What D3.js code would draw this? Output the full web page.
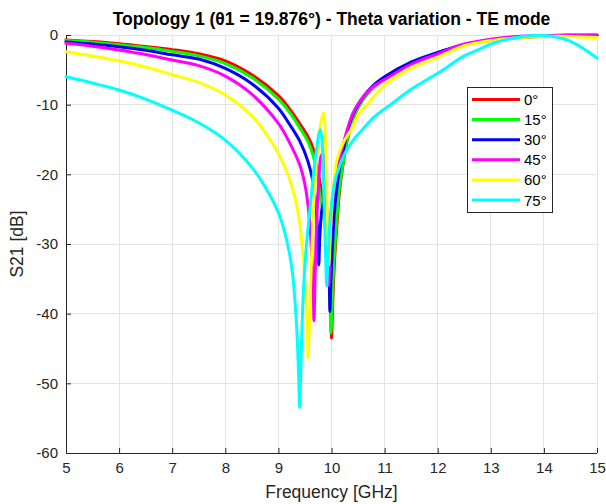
<!DOCTYPE html>
<html>
<head>
<meta charset="utf-8">
<script src="https://cdn.jsdelivr.net/npm/d3@7"></script>
<style>
html,body{margin:0;padding:0;background:#fff;}
svg{display:block;}
text{font-family:"Liberation Sans",Arial,Helvetica,sans-serif;}
</style>
</head>
<body>
<svg id="chart" width="606" height="504"></svg>
<script>
// ---- data ----
const titleText = "Topology 1 (\u03b81 = 19.876\u00b0) - Theta variation - TE mode";
const xLabel = "Frequency [GHz]";
const yLabel = "S21 [dB]";
const xTicks = [5,6,7,8,9,10,11,12,13,14,15];
const yTicks = [0,-10,-20,-30,-40,-50,-60];
const seriesNames = ["0\u00b0","15\u00b0","30\u00b0","45\u00b0","60\u00b0","75\u00b0"];
const seriesColors = ["#ff0000","#00ff00","#0000ff","#ff00ff","#ffff00","#00ffff"];

const s0 = [[5,-0.7],[5.5,-0.95],[6,-1.25],[6.5,-1.65],[7,-2.1],[7.5,-2.7],[8,-3.7],[8.5,-5.7],[9,-8.7],[9.2,-10.5],[9.4,-12.7],[9.55,-14.5],[9.65,-16.2],[9.73,-19],[9.8,-22],[9.88,-26],[9.94,-31],[9.97,-36],[9.99,-41],[10.0,-43.5],[10.03,-37],[10.06,-32],[10.1,-27.5],[10.15,-22.5],[10.2,-19.5],[10.3,-15],[10.4,-12.3],[10.5,-10.4],[10.75,-7.8],[11,-6.2],[11.5,-4.0],[12,-2.6],[12.5,-1.4],[13,-0.8],[13.5,-0.4],[14,-0.2],[14.5,-0.1],[15,-0.05]];
const s15 = [[5,-0.8],[5.5,-1.05],[6,-1.4],[6.5,-1.8],[7,-2.35],[7.5,-3.0],[8,-4.1],[8.5,-6.1],[9,-9.2],[9.2,-11],[9.4,-13.3],[9.55,-15.2],[9.65,-17.2],[9.73,-20],[9.78,-23],[9.85,-26],[9.92,-30],[9.95,-34],[9.975,-39],[9.99,-42.8],[10.02,-37],[10.05,-32],[10.09,-27.5],[10.14,-22.5],[10.2,-19.2],[10.3,-14.8],[10.4,-12.1],[10.5,-10.3],[10.75,-7.7],[11,-6.1],[11.5,-3.9],[12,-2.55],[12.5,-1.35],[13,-0.75],[13.5,-0.35],[14,-0.15],[14.5,-0.08],[15,-0.05]];
const s30 = [[5,-1.0],[5.5,-1.3],[6,-1.7],[6.5,-2.2],[7,-2.85],[7.5,-3.45],[8,-4.8],[8.5,-7.0],[9,-10.5],[9.2,-12.7],[9.4,-15.2],[9.55,-18],[9.65,-21],[9.7,-24],[9.74,-28.5],[9.76,-33],[9.78,-29],[9.82,-25],[9.86,-24],[9.9,-26],[9.94,-31],[9.96,-36],[9.97,-39.7],[9.99,-35],[10.02,-30],[10.06,-25],[10.1,-22],[10.15,-19.3],[10.2,-17.5],[10.3,-13.8],[10.4,-11.5],[10.5,-10],[10.75,-7.5],[11,-6.0],[11.5,-3.9],[12,-2.5],[12.5,-1.4],[13,-0.7],[13.5,-0.3],[14,-0.1],[14.5,-0.05],[15,-0.05]];
const s45 = [[5,-1.2],[5.5,-1.6],[6,-2.15],[6.5,-2.8],[7,-3.6],[7.5,-4.4],[8,-5.9],[8.5,-8.5],[9,-12.7],[9.2,-15.3],[9.4,-18.6],[9.5,-21.5],[9.58,-26],[9.63,-32],[9.66,-38],[9.67,-41],[9.69,-35],[9.72,-27],[9.76,-21],[9.8,-17.5],[9.84,-17],[9.88,-20],[9.92,-27],[9.95,-36],[9.98,-29],[10.02,-24],[10.06,-21],[10.1,-19],[10.2,-16.3],[10.3,-13.5],[10.4,-11.3],[10.5,-9.9],[10.75,-7.6],[11,-6.4],[11.5,-4.2],[12,-2.7],[12.5,-1.3],[13,-0.6],[13.5,-0.2],[14,-0.1],[14.5,0],[15,-0.02]];
const s60 = [[5,-2.4],[5.5,-3.0],[6,-3.7],[6.5,-4.6],[7,-5.7],[7.5,-6.8],[8,-8.6],[8.5,-11.6],[8.75,-14],[9,-17],[9.2,-20.5],[9.3,-23],[9.4,-27],[9.47,-32],[9.52,-38],[9.55,-44],[9.56,-46.4],[9.58,-42],[9.62,-33],[9.67,-24],[9.73,-17],[9.79,-13],[9.85,-11.2],[9.88,-14],[9.91,-22],[9.93,-30],[9.95,-33],[9.98,-28],[10.02,-23],[10.06,-20],[10.1,-18],[10.2,-15.8],[10.3,-14.4],[10.37,-13.6],[10.5,-11.5],[10.67,-10],[11,-7.2],[11.5,-4.8],[12,-3.2],[12.5,-1.55],[13,-0.8],[13.5,-0.4],[14,-0.2],[14.5,-0.2],[15,-0.35]];
const s75 = [[5,-6.0],[5.5,-6.9],[6,-7.9],[6.5,-9.2],[7,-10.8],[7.5,-12.6],[8,-15.1],[8.5,-19],[8.75,-21.8],[9,-25.5],[9.1,-27.8],[9.2,-31],[9.27,-34.5],[9.32,-39],[9.36,-44.5],[9.385,-50],[9.4,-53.5],[9.415,-50],[9.44,-43],[9.48,-35.5],[9.53,-30],[9.6,-24.5],[9.66,-20],[9.72,-16.3],[9.76,-14.3],[9.79,-13.6],[9.82,-15],[9.86,-24],[9.89,-32],[9.91,-36],[9.93,-33],[9.97,-27],[10.02,-23],[10.08,-20.5],[10.13,-19.3],[10.25,-17],[10.4,-15.2],[10.58,-13.6],[10.8,-11.8],[11,-10.6],[11.11,-10],[11.5,-7.8],[12,-5.5],[12.5,-3.0],[12.8,-2.0],[13,-1.3],[13.5,-0.35],[13.9,-0.05],[14,-0.05],[14.5,-0.9],[15,-3.3]];
const seriesData = [s0,s15,s30,s45,s60,s75];

// ---- chart ----
const svg = d3.select("#chart");
const W = 606, H = 504;
const L = 66, R = 597, T = 35, B = 453;
const x = d3.scaleLinear().domain([5,15]).range([L,R]);
const y = d3.scaleLinear().domain([-60,0]).range([B,T]);
const axisCol = "#262626";

svg.append("rect").attr("width",W).attr("height",H).attr("fill","#fff");

// grid
const grid = svg.append("g");
grid.selectAll(".gx").data(xTicks).enter().append("line")
  .attr("x1",d=>x(d)).attr("x2",d=>x(d)).attr("y1",T).attr("y2",B)
  .attr("stroke","#e3e3e3").attr("stroke-width",1).attr("shape-rendering","crispEdges");
grid.selectAll(".gy").data(yTicks).enter().append("line")
  .attr("x1",L).attr("x2",R).attr("y1",d=>y(d)).attr("y2",d=>y(d))
  .attr("stroke","#e3e3e3").attr("stroke-width",1).attr("shape-rendering","crispEdges");

// axes
const xAxis = d3.axisBottom(x).tickValues(xTicks).tickSize(-5).tickPadding(9).tickFormat(d3.format("d"));
const yAxis = d3.axisLeft(y).tickValues(yTicks).tickSize(-5).tickPadding(8).tickFormat(d=>d===0?"0":String(d));
const gx = svg.append("g").attr("transform",`translate(0,${B})`).call(xAxis);
const gy = svg.append("g").attr("transform",`translate(${L},0)`).call(yAxis);
[gx,gy].forEach(g=>{
  g.select(".domain").attr("stroke",axisCol).attr("stroke-width",1);
  g.selectAll(".tick line").attr("stroke",axisCol);
  g.selectAll(".tick text").attr("fill",axisCol).attr("font-size",15)
   .attr("font-family","Liberation Sans, Arial, sans-serif");
});
gx.select(".domain").attr("d",`M${L},0.5H${R}`);
gy.select(".domain").attr("d",`M0.5,${B}V${T}`);

// lines
const line = d3.line().x(d=>x(d[0])).y(d=>y(d[1])).curve(d3.curveCatmullRom.alpha(0.5));
const plot = svg.append("g");
seriesData.forEach((s,i)=>{
  plot.append("path").datum(s).attr("d",line)
    .attr("fill","none").attr("stroke",seriesColors[i]).attr("stroke-width",3)
    .attr("stroke-linejoin","round").attr("stroke-linecap","round");
});

// title & labels
svg.append("text").attr("x",(L+R)/2).attr("y",25).attr("text-anchor","middle")
  .attr("font-size",17.5).attr("font-weight","bold").attr("fill","#000").text(titleText);
svg.append("text").attr("x",(L+R)/2).attr("y",498).attr("text-anchor","middle")
  .attr("font-size",17.5).attr("fill",axisCol).text(xLabel);
svg.append("text").attr("transform",`translate(23,${(T+B)/2}) rotate(-90)`).attr("text-anchor","middle")
  .attr("font-size",17.5).attr("fill",axisCol).text(yLabel);

// legend
const lg = svg.append("g");
lg.append("rect").attr("x",467.5).attr("y",87.5).attr("width",85).attr("height",125)
  .attr("fill","#fff").attr("stroke",axisCol).attr("stroke-width",1);
seriesNames.forEach((n,i)=>{
  const yy = 99.5 + i*20.1;
  lg.append("line").attr("x1",472).attr("x2",520).attr("y1",yy).attr("y2",yy)
    .attr("stroke",seriesColors[i]).attr("stroke-width",3);
  lg.append("text").attr("x",524).attr("y",yy+5.5).attr("font-size",15).attr("fill","#000").text(n);
});
</script>
</body>
</html>
